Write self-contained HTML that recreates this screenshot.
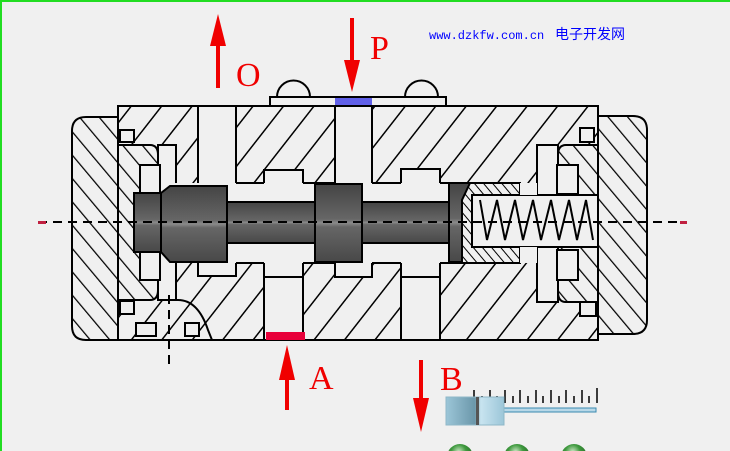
<!DOCTYPE html>
<html><head><meta charset="utf-8"><style>
html,body{margin:0;padding:0;background:#f0f0f0;}
body{width:730px;height:451px;overflow:hidden;position:relative;}
</style></head><body>
<svg width="730" height="451" viewBox="0 0 730 451" xmlns="http://www.w3.org/2000/svg" style="position:absolute;left:0;top:0">
<defs>
<pattern id="h1" patternUnits="userSpaceOnUse" width="24" height="24" patternTransform="rotate(38)">
<rect width="24" height="24" fill="#f0f0f0"/><line x1="0" y1="0" x2="0" y2="24" stroke="#000" stroke-width="3"/></pattern>
<pattern id="h2" patternUnits="userSpaceOnUse" width="15" height="15" patternTransform="rotate(-40)">
<rect width="15" height="15" fill="#f0f0f0"/><line x1="0" y1="0" x2="0" y2="15" stroke="#000" stroke-width="2.5"/></pattern>
<pattern id="h3" patternUnits="userSpaceOnUse" width="7" height="7" patternTransform="rotate(-40)">
<rect width="7" height="7" fill="#f0f0f0"/><line x1="0" y1="0" x2="0" y2="7" stroke="#000" stroke-width="2"/></pattern>
<linearGradient id="sp" x1="0" y1="0" x2="0" y2="1">
<stop offset="0" stop-color="#444"/><stop offset="0.45" stop-color="#666"/><stop offset="0.5" stop-color="#8a8a8a"/><stop offset="0.55" stop-color="#666"/><stop offset="1" stop-color="#484848"/></linearGradient>
<linearGradient id="sl" x1="0" y1="0" x2="1" y2="0">
<stop offset="0" stop-color="#9cc6d8"/><stop offset="0.5" stop-color="#6b97aa"/><stop offset="0.6" stop-color="#c8e4f0"/><stop offset="1" stop-color="#9cc6d8"/></linearGradient>
<radialGradient id="gb" cx="0.45" cy="0.3" r="0.7"><stop offset="0" stop-color="#cfe8c8"/><stop offset="0.4" stop-color="#3f9a3f"/><stop offset="1" stop-color="#1c5a1c"/></radialGradient>
</defs>
<rect x="0" y="0" width="730" height="2" fill="#22dd22"/>
<rect x="0" y="0" width="2" height="451" fill="#22dd22"/>

<path d="M277 97 A16 16 0 0 1 310 97" fill="none" stroke="#000" stroke-width="2"/>
<path d="M405 97 A16 16 0 0 1 438 97" fill="none" stroke="#000" stroke-width="2"/>
<rect x="270" y="97" width="176" height="9" fill="#f0f0f0" stroke="#000" stroke-width="2"/>
<rect x="335" y="98" width="37" height="7" fill="#6060e8"/>

<path d="M86 117 H118 V340 H86 Q72 340 72 326 V131 Q72 117 86 117 Z" fill="url(#h2)" stroke="#000" stroke-width="2"/>
<path d="M598 116 H633 Q647 116 647 130 V320 Q647 334 633 334 H598 Z" fill="url(#h2)" stroke="#000" stroke-width="2"/>

<rect x="118" y="106" width="480" height="234" fill="url(#h1)" stroke="#000" stroke-width="2"/>
<path d="M118 145 H150 Q158 145 158 155 V290 Q158 300 150 300 H118 Z" fill="url(#h2)" stroke="#000" stroke-width="2"/>
<path d="M598 145 H566 Q558 145 558 155 V292 Q558 302 566 302 H598 Z" fill="url(#h2)" stroke="#000" stroke-width="2"/>
<path d="M158 300 H178 Q198 300 208 330 L212 340" fill="none" stroke="#000" stroke-width="2"/>

<g fill="#f0f0f0" stroke="#000" stroke-width="2">
<rect x="198" y="106" width="38" height="170"/>
<rect x="158" y="145" width="18" height="155"/>
<rect x="140" y="165" width="20" height="115"/>
<rect x="264" y="170" width="39" height="170"/>
<rect x="335" y="106" width="37" height="171"/>
<rect x="401" y="169" width="39" height="171"/>
<rect x="537" y="145" width="21" height="157"/>
<rect x="557" y="165" width="21" height="29"/>
<rect x="557" y="250" width="21" height="30"/>
</g>
<rect x="168" y="183" width="295" height="80" fill="#f0f0f0"/>
<g stroke="#000" stroke-width="2">
<line x1="236" y1="183" x2="264" y2="183"/><line x1="303" y1="183" x2="335" y2="183"/>
<line x1="372" y1="183" x2="401" y2="183"/><line x1="440" y1="183" x2="462" y2="183"/>
<line x1="236" y1="263" x2="264" y2="263"/><line x1="303" y1="263" x2="335" y2="263"/>
<line x1="372" y1="263" x2="401" y2="263"/><line x1="440" y1="263" x2="462" y2="263"/>
<line x1="264" y1="277" x2="303" y2="277"/><line x1="401" y1="277" x2="440" y2="277"/>
<line x1="335" y1="234" x2="372" y2="234"/>
</g>

<rect x="462" y="183" width="58" height="80" fill="url(#h3)" stroke="#000" stroke-width="2"/>
<rect x="472" y="195" width="126" height="52" fill="#f0f0f0" stroke="#000" stroke-width="2"/>
<rect x="520" y="183" width="17" height="12" fill="#f0f0f0"/>
<rect x="520" y="247" width="17" height="16" fill="#f0f0f0"/>
<path d="M480 200 L487 240 L497 200 L505 240 L515 200 L523 240 L533 200 L541 240 L551 200 L559 240 L569 200 L577 240 L586 200 L593 240" fill="none" stroke="#000" stroke-width="2"/>

<g fill="#f0f0f0" stroke="#000" stroke-width="2">
<rect x="120" y="130" width="14" height="12"/><rect x="580" y="128" width="14" height="14"/>
<rect x="120" y="301" width="14" height="13"/><rect x="136" y="323" width="20" height="13"/>
<rect x="185" y="323" width="14" height="13"/><rect x="580" y="302" width="16" height="14"/>
</g>

<g stroke="#000" stroke-width="2">
<rect x="134" y="193" width="27" height="59" fill="url(#sp)"/>
<path d="M161 193 L170 186 H227 V262 H170 L161 252 Z" fill="url(#sp)"/>
<rect x="227" y="202" width="88" height="41" fill="url(#sp)"/>
<rect x="315" y="184" width="47" height="78" fill="url(#sp)"/>
<rect x="362" y="202" width="88" height="41" fill="url(#sp)"/>
<path d="M449 183 H470 L462 200 V262 H449 Z" fill="url(#sp)"/>
</g>

<line x1="38" y1="222" x2="686" y2="222" stroke="#000" stroke-width="2" stroke-dasharray="9,6"/>
<rect x="38" y="221" width="8" height="3" fill="#c02040"/><rect x="680" y="221" width="7" height="3" fill="#c02040"/>
<line x1="169" y1="295" x2="169" y2="368" stroke="#000" stroke-width="2" stroke-dasharray="9,6"/>

<rect x="266" y="332" width="39" height="8" fill="#e8003a"/>

<g fill="#f00000">
<rect x="216" y="40" width="4" height="48"/><polygon points="218,14 210,46 226,46"/>
<rect x="350" y="18" width="4" height="50"/><polygon points="352,92 344,60 360,60"/>
<rect x="285" y="370" width="4" height="40"/><polygon points="287,345 279,380 295,380"/>
<rect x="419" y="360" width="4" height="45"/><polygon points="421,432 413,398 429,398"/>
</g>
<g fill="#f00000" font-family="Liberation Serif, serif" font-size="34">
<text x="236" y="86">O</text><text x="370" y="59">P</text>
<text x="309" y="389">A</text><text x="440" y="390">B</text>
</g>
<text x="429" y="39" fill="#0000ff" font-family="Liberation Mono, 'Noto Sans CJK SC', monospace" font-size="12">www.dzkfw.com.cn<tspan x="555" font-family="'Liberation Sans','WenQuanYi Zen Hei','Noto Sans CJK SC',sans-serif" font-size="14">电子开发网</tspan></text>

<g stroke="#000" stroke-width="1.5">
<line x1="474" y1="390" x2="474" y2="403"/><line x1="482" y1="396" x2="482" y2="403"/>
<line x1="490" y1="390" x2="490" y2="403"/><line x1="497" y1="396" x2="497" y2="403"/>
<line x1="505" y1="390" x2="505" y2="403"/><line x1="513" y1="396" x2="513" y2="403"/>
<line x1="520" y1="390" x2="520" y2="403"/><line x1="528" y1="396" x2="528" y2="403"/>
<line x1="536" y1="390" x2="536" y2="403"/><line x1="543" y1="396" x2="543" y2="403"/>
<line x1="551" y1="390" x2="551" y2="403"/><line x1="559" y1="396" x2="559" y2="403"/>
<line x1="566" y1="390" x2="566" y2="403"/><line x1="574" y1="396" x2="574" y2="403"/>
<line x1="582" y1="390" x2="582" y2="403"/><line x1="589" y1="396" x2="589" y2="403"/>
<line x1="597" y1="388" x2="597" y2="403"/>
</g>
<rect x="474" y="408" width="122" height="4" fill="#b8d8e8" stroke="#3a8ab0" stroke-width="1"/>
<rect x="446" y="397" width="58" height="28" fill="url(#sl)" stroke="#8fb8c8" stroke-width="1"/>
<rect x="476" y="397" width="3" height="28" fill="#555"/>

<circle cx="460" cy="457" r="13" fill="url(#gb)"/>
<circle cx="517" cy="457" r="13" fill="url(#gb)"/>
<circle cx="574" cy="457" r="13" fill="url(#gb)"/>
</svg>
</body></html>
